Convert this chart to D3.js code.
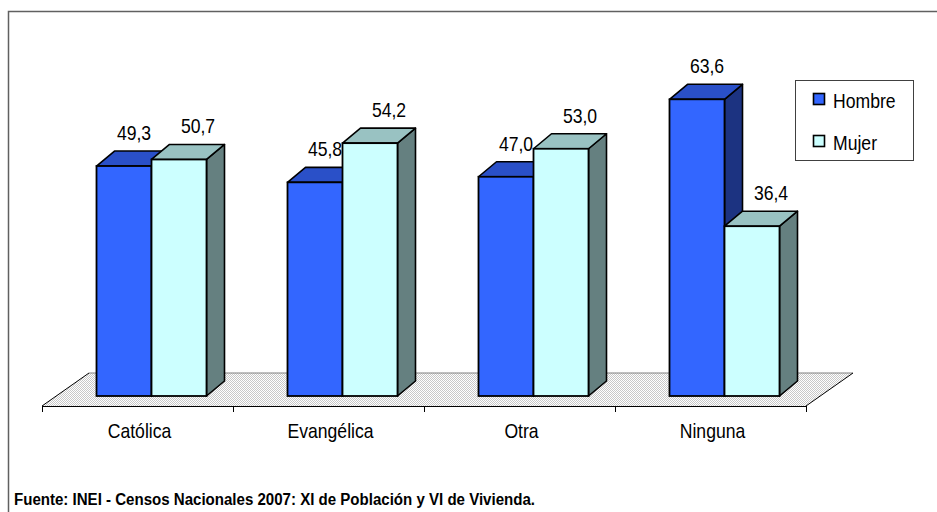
<!DOCTYPE html>
<html><head><meta charset="utf-8">
<script src="https://cdn.jsdelivr.net/npm/d3@7"></script>
<style>body{margin:0;background:#fff}svg{display:block}text{font-family:"Liberation Sans",Arial,sans-serif}</style>
</head><body><div id="chart"></div>
<script>
const categories = ["Católica", "Evangélica", "Otra", "Ninguna"];
const seriesNames = ["Hombre", "Mujer"];
const hombre = [49.3, 45.8, 47.0, 63.6];
const mujer  = [50.7, 54.2, 53.0, 36.4];
const valueLabels = [["49,3","45,8","47,0","63,6"],["50,7","54,2","53,0","36,4"]];
const sourceNote = "Fuente: INEI - Censos Nacionales 2007: XI de Población y VI de Vivienda.";

const W = 937, H = 512;
const svg = d3.select("#chart").append("svg").attr("width", W).attr("height", H);

// narrow-looking text helper (tall, condensed glyphs as in the original)
function ntext(sel, px, py, str, anchor) {
  return sel.append("text")
    .attr("transform", `translate(${px},${py}) scale(0.88,1)`)
    .attr("text-anchor", anchor || "start")
    .attr("font-size", 20).attr("fill", "#000").text(str);
}

const defs = svg.append("defs");
const pat = defs.append("pattern").attr("id","dots").attr("width",2).attr("height",2).attr("patternUnits","userSpaceOnUse");
pat.append("rect").attr("width",2).attr("height",2).attr("fill","#ffffff");
pat.append("rect").attr("width",1).attr("height",1).attr("fill","#c8c8c8");
pat.append("rect").attr("x",1).attr("y",1).attr("width",1).attr("height",1).attr("fill","#c8c8c8");

// outer frame
svg.append("path").attr("d", `M8.5,${H} L8.5,11.5 L${W},11.5`).attr("fill","none").attr("stroke","#606060").attr("stroke-width",1.5);

const axisY = 406;
const x = d3.scaleBand().domain(categories).range([42, 806]).padding(0);
const inner = d3.scaleBand().domain(seriesNames).range([0, 110]).padding(0);
const y = d3.scaleLinear().domain([0, 70]).range([396, 396 - 70 * 4.665]);
const floorD = {dx: 47, dy: -33};
const barShift = {dx: 14, dy: -10};
const depth = {dx: 18, dy: -15};

const colors = {
  Hombre: {front:"#3366FF", top:"#2A50C8", side:"#1C3381"},
  Mujer:  {front:"#CCFFFF", top:"#99C2C2", side:"#658080"}
};

// floor
const x0 = x.range()[0], x1 = x.range()[1];
svg.append("path")
  .attr("d", `M${x0},${axisY} L${x0+floorD.dx},${axisY+floorD.dy} L${x1+floorD.dx},${axisY+floorD.dy} L${x1},${axisY} Z`)
  .attr("fill","url(#dots)").attr("stroke","none");
svg.append("path").attr("d", `M${x0+floorD.dx},${axisY+floorD.dy} L${x1+floorD.dx},${axisY+floorD.dy}`).attr("stroke","#808080").attr("fill","none");
svg.append("path").attr("d", `M${x0},${axisY} L${x0+floorD.dx},${axisY+floorD.dy}`).attr("stroke","#000").attr("fill","none");
svg.append("path").attr("d", `M${x1},${axisY} L${x1+floorD.dx},${axisY+floorD.dy}`).attr("stroke","#000").attr("fill","none");

// category axis
const axisG = svg.append("g").attr("transform", `translate(0,${axisY})`);
axisG.append("line").attr("x1",x0).attr("x2",x1).attr("stroke","#000").attr("shape-rendering","crispEdges");
const tickPos = categories.map(c => x(c)).concat([x1]);
axisG.selectAll("line.tick").data(tickPos).join("line").attr("class","tick")
  .attr("x1",d=>d).attr("x2",d=>d).attr("y1",0).attr("y2",6).attr("stroke","#000").attr("shape-rendering","crispEdges");
categories.forEach(c => ntext(axisG, x(c) + x.bandwidth()/2 + 2, 32, c, "middle"));

// bars
const seriesVals = [hombre, mujer];
const barsG = svg.append("g");
categories.forEach((c, ci) => {
  const base = x(c) + (x.bandwidth() - 110) / 2 + barShift.dx;
  seriesNames.forEach((s, si) => {
    const v = seriesVals[si][ci];
    const bx = base + inner(s), bw = inner.bandwidth();
    const top = y(v), bot = y(0);
    const col = colors[s];
    const g = barsG.append("g");
    g.append("path").attr("d", `M${bx+bw},${top} L${bx+bw+depth.dx},${top+depth.dy} L${bx+bw+depth.dx},${bot+depth.dy} L${bx+bw},${bot} Z`)
      .attr("fill", col.side).attr("stroke","#000").attr("stroke-width",1.6).attr("stroke-linejoin","round");
    g.append("path").attr("d", `M${bx},${top} L${bx+depth.dx},${top+depth.dy} L${bx+bw+depth.dx},${top+depth.dy} L${bx+bw},${top} Z`)
      .attr("fill", col.top).attr("stroke","#000").attr("stroke-width",1.6).attr("stroke-linejoin","round");
    g.append("rect").attr("x",bx).attr("y",top).attr("width",bw).attr("height",bot-top)
      .attr("fill", col.front).attr("stroke","#000").attr("stroke-width",1.8);
  });
});

// value labels
const labelsG = svg.append("g");
categories.forEach((c, ci) => {
  const base = x(c) + (x.bandwidth() - 110) / 2 + barShift.dx;
  seriesNames.forEach((s, si) => {
    const v = seriesVals[si][ci];
    const cx = base + inner(s) + inner.bandwidth()/2 + (si === 0 ? 10 : 19);
    ntext(labelsG, cx, y(v) - 26, valueLabels[si][ci], "middle");
  });
});

// legend
const lg = svg.append("g").attr("transform","translate(795,80)");
lg.append("rect").attr("x",0.5).attr("y",0.5).attr("width",118).attr("height",80).attr("fill","#fff").attr("stroke","#404040");
seriesNames.forEach((s, i) => {
  const gy = 13 + i * 42;
  lg.append("rect").attr("x",18.5).attr("y",gy+0.5).attr("width",11).attr("height",11)
    .attr("fill", colors[s].front).attr("stroke","#000").attr("stroke-width",1.6);
  ntext(lg, 38, gy + 15, s);
});

// source
svg.append("text").attr("x",14).attr("y",505).attr("font-size",16).attr("font-weight","bold")
  .attr("fill","#000").attr("textLength", 521).attr("lengthAdjust","spacingAndGlyphs").text(sourceNote);
</script></body></html>
